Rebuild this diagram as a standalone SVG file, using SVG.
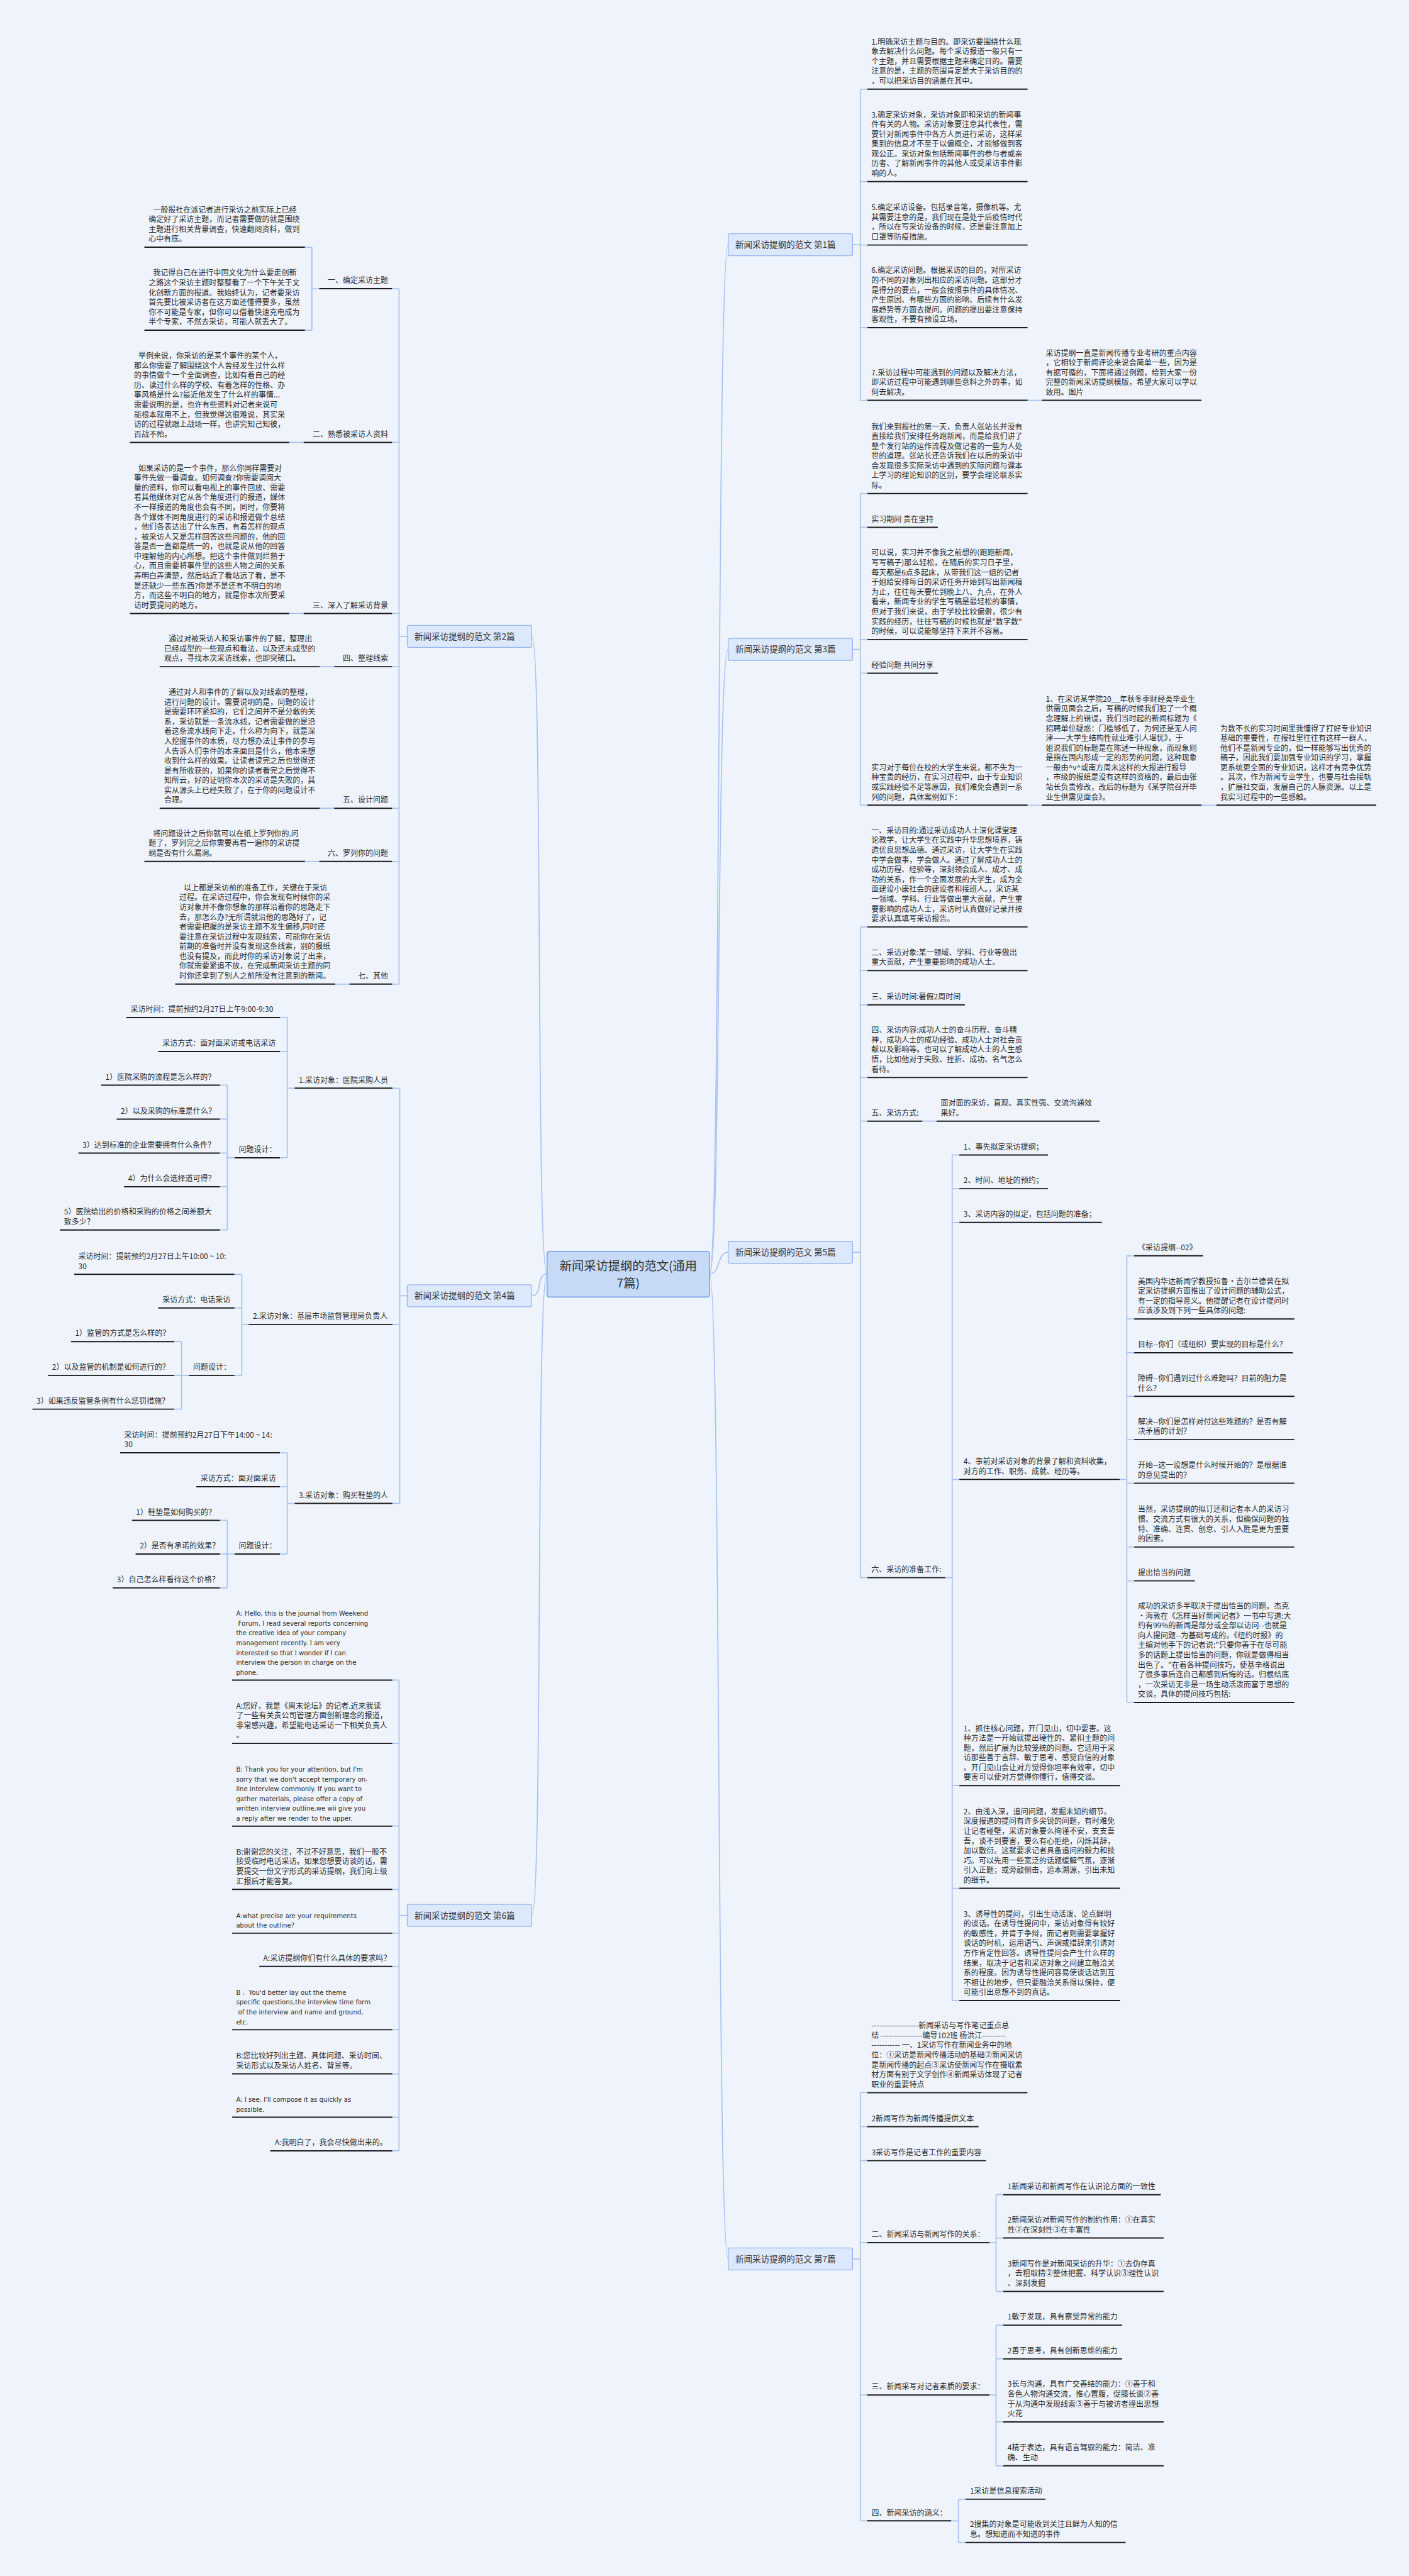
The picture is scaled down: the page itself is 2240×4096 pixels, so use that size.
<svg xmlns="http://www.w3.org/2000/svg" width="2240" height="4096" viewBox="0 0 2240 4096">
<style>
.t{font-family:"Noto Sans CJK SC","Liberation Sans",sans-serif;font-size:13.75px;fill:#2a2a2a}
.en{font-family:"DejaVu Sans","Liberation Sans",sans-serif;font-size:11.6px;fill:#2a2a2a}
.u{stroke:#1a1a1a;stroke-width:2.2;fill:none}
.c{stroke:#a7c3f2;stroke-width:2;fill:none}
.n{fill:#dce8fb;stroke:#94b6ef;stroke-width:1.5}
.nt{font-family:"Noto Sans CJK SC","Liberation Sans",sans-serif;font-size:15.5px;fill:#333}
.m{fill:#c6daf8;stroke:#7ea6ea;stroke-width:2}
.mt{font-family:"Noto Sans CJK SC","Liberation Sans",sans-serif;font-size:22px;fill:#333;text-anchor:middle}
.e{text-anchor:end}
</style>
<rect width="2240" height="4096" fill="#eff4fc"/>
<g transform="scale(0.875)">
<g id="connectors">
<path class="c" d="M1289 2315 C1310 2315 1302 444.8 1323 444.8"/>
<path class="c" d="M1289 2315 C1310 2315 1302 1180 1323 1180"/>
<path class="c" d="M1289 2315 C1310 2315 1302 2275.7 1323 2275.7"/>
<path class="c" d="M1289 2315 C1310 2315 1302 4105 1323 4105"/>
<path class="c" d="M994 2315 C973 2315 987 1156.5 966 1156.5"/>
<path class="c" d="M994 2315 C973 2315 987 2354.7 966 2354.7"/>
<path class="c" d="M994 2315 C973 2315 987 3480.8 966 3480.8"/>
<path class="c" d="M1549 444.8H1563M1563 162V727.5M1563 162H1576M1563 330H1576M1563 445.3H1576M1563 595.4H1576M1563 727.5H1576M1867 727.5H1893"/>
<path class="c" d="M1549 1180H1563M1563 896.9V1463.2M1563 896.9H1576M1563 958.2H1576M1563 1162.1H1576M1563 1223.4H1576M1563 1463.2H1576M1867 1463.2H1893M2183 1463.2H2210"/>
<path class="c" d="M1549 2275.7H1563M1563 1684.4V2867M1563 1684.4H1576M1563 1763.7H1576M1563 1826H1576M1563 1958.1H1576M1563 2037.4H1576M1563 2867H1576M1675.7 2037.4H1701.7"/>
<path class="c" d="M1717.7 2867H1730M1730 2098.8V3635.5M1730 2098.8H1743M1730 2160.1H1743M1730 2221.5H1743M1730 2688.4H1743M1730 3244.8H1743M1730 3431.5H1743M1730 3635.5H1743"/>
<path class="c" d="M2034.3 2688.4H2047.3M2047.3 2282V3093.7M2047.3 2282H2060.7M2047.3 2396.8H2060.7M2047.3 2458.2H2060.7M2047.3 2537.5H2060.7M2047.3 2616.1H2060.7M2047.3 2695.3H2060.7M2047.3 2811.3H2060.7M2047.3 2872.7H2060.7M2047.3 3093.7H2060.7"/>
<path class="c" d="M1549 4105H1563M1563 3802.8V4580.9M1563 3802.8H1576M1563 3864.6H1576M1563 3926.4H1576M1563 4075.3H1576M1563 4352.2H1576M1563 4580.9H1576"/>
<path class="c" d="M1797.7 4075.3H1809.8M1809.8 3988.2V4164M1809.8 3988.2H1822.8M1809.8 4066.9H1822.8M1809.8 4164H1822.8M1797.7 4352.2H1809.8M1809.8 4225.3V4480.9M1809.8 4225.3H1822.8M1809.8 4286.5H1822.8M1809.8 4401.1H1822.8M1809.8 4480.9H1822.8M1728.2 4580.9H1741.3M1741.3 4541.6V4620.2M1741.3 4541.6H1754.3M1741.3 4620.2H1754.3"/>
<path class="c" d="M740 1156.5H725M725 524.6V1788.3M712.3 524.6H725M712.3 803.9H725M712.3 1114.8H725M712.3 1211.6H725M712.3 1468.8H725M712.3 1565.5H725M712.3 1788.3H725"/>
<path class="c" d="M554 449.2H566.7M554 600H566.7M566.7 449.2V600M566.7 524.6H580M525.7 803.9H551.7M525.7 1114.8H551.7M581 1211.6H607.3M581 1468.8H607.3M554 1565.5H580M609 1788.3H635"/>
<path class="c" d="M739.7 2354.7H726.3M726.3 1977.5V2731.9M713 1977.5H726.3M713 2407H726.3M713 2731.9H726.3"/>
<path class="c" d="M521.9 1849.1V2103.9M508.5 1849.1H521.9M508.5 1910.9H521.9M508.5 2103.9H521.9M521.9 1977.5H535.3M412.9 1971.9V2235.1M399.6 1971.9H412.9M399.6 2033.7H412.9M399.6 2095.4H412.9M399.6 2156.5H412.9M399.6 2235.1H412.9M412.9 2103.9H426.3"/>
<path class="c" d="M439.3 2315.8V2499.6M425.9 2315.8H439.3M425.9 2376.8H439.3M425.9 2499.6H439.3M439.3 2407H451.8M329.9 2437.9V2560.7M316.5 2437.9H329.9M316.5 2499.6H329.9M316.5 2560.7H329.9M329.9 2499.6H343.3"/>
<path class="c" d="M521.9 2640V2823.9M508.5 2640H521.9M508.5 2701.8H521.9M508.5 2823.9H521.9M521.9 2731.9H535.3M412.9 2762.8V2885.6M399.6 2762.8H412.9M399.6 2823.9H412.9M399.6 2885.6H412.9M412.9 2823.9H426.3"/>
<path class="c" d="M740 3480.8H725M725 3053.1V3908.5M712.7 3053.1H725M712.7 3168.1H725M712.7 3318.5H725M712.7 3433.5H725M712.7 3513H725M712.7 3573.5H725M712.7 3688.4H725M712.7 3768.6H725M712.7 3847.4H725M712.7 3908.5H725"/>
</g>

<g id="center">
<rect class="m" x="994" y="2274" width="295" height="83" rx="4"/>
<text class="mt" x="1141.5" y="2308">新闻采访提纲的范文(通用</text>
<text class="mt" x="1141.5" y="2339">7篇)</text>
</g>

<g id="b1"><rect class="n" x="1323" y="424.8" width="226" height="40" rx="3"/><text class="nt" x="1336" y="450.3">新闻采访提纲的范文 第1篇</text></g>
<g id="b3"><rect class="n" x="1323" y="1160" width="226" height="40" rx="3"/><text class="nt" x="1336" y="1185.5">新闻采访提纲的范文 第3篇</text></g>
<g id="b5"><rect class="n" x="1323" y="2255.7" width="226" height="40" rx="3"/><text class="nt" x="1336" y="2281.2">新闻采访提纲的范文 第5篇</text></g>
<g id="b7"><rect class="n" x="1323" y="4085" width="226" height="40" rx="3"/><text class="nt" x="1336" y="4110.5">新闻采访提纲的范文 第7篇</text></g>
<g id="b2"><rect class="n" x="740" y="1136.5" width="226" height="40" rx="3"/><text class="nt" x="753" y="1162">新闻采访提纲的范文 第2篇</text></g>
<g id="b4"><rect class="n" x="740" y="2334.7" width="226" height="40" rx="3"/><text class="nt" x="753" y="2360.2">新闻采访提纲的范文 第4篇</text></g>
<g id="b6"><rect class="n" x="740" y="3460.8" width="226" height="40" rx="3"/><text class="nt" x="753" y="3486.3">新闻采访提纲的范文 第6篇</text></g>

<!-- 第1篇 -->
<g id="p1a"><text class="t" x="1583" y="80.8"><tspan x="1583">1.明确采访主题与目的。即采访要围绕什么现</tspan><tspan x="1583" dy="17.8">象去解决什么问题。每个采访报道一般只有一</tspan><tspan x="1583" dy="17.8">个主题，并且需要根据主题来确定目的。需要</tspan><tspan x="1583" dy="17.8">注意的是，主题的范围肯定是大于采访目的的</tspan><tspan x="1583" dy="17.8">，可以把采访目的涵盖在其中。</tspan></text><path class="u" d="M1576 162H1867"/></g>
<g id="p1b"><text class="t" x="1583" y="213.2"><tspan x="1583">3.确定采访对象，采访对象即和采访的新闻事</tspan><tspan x="1583" dy="17.8">件有关的人物。采访对象要注意其代表性，需</tspan><tspan x="1583" dy="17.8">要针对新闻事件中各方人员进行采访，这样采</tspan><tspan x="1583" dy="17.8">集到的信息才不至于以偏概全，才能够做到客</tspan><tspan x="1583" dy="17.8">观公正。采访对象包括新闻事件的参与者或亲</tspan><tspan x="1583" dy="17.8">历者、了解新闻事件的其他人或受采访事件影</tspan><tspan x="1583" dy="17.8">响的人。</tspan></text><path class="u" d="M1576 330H1867"/></g>
<g id="p1c"><text class="t" x="1583" y="381.9"><tspan x="1583">5.确定采访设备。包括录音笔，摄像机等。尤</tspan><tspan x="1583" dy="17.8">其需要注意的是，我们现在是处于后疫情时代</tspan><tspan x="1583" dy="17.8">，所以在写采访设备的时候，还是要注意加上</tspan><tspan x="1583" dy="17.8">口罩等防疫措施。</tspan></text><path class="u" d="M1576 445.3H1867"/></g>
<g id="p1d"><text class="t" x="1583" y="496.4"><tspan x="1583">6.确定采访问题。根据采访的目的，对所采访</tspan><tspan x="1583" dy="17.8">的不同的对象列出相应的采访问题。这部分才</tspan><tspan x="1583" dy="17.8">是得分的要点，一般会按照事件的具体情况、</tspan><tspan x="1583" dy="17.8">产生原因、有哪些方面的影响、后续有什么发</tspan><tspan x="1583" dy="17.8">展趋势等方面去提问。问题的提出要注意保持</tspan><tspan x="1583" dy="17.8">客观性，不要有预设立场。</tspan></text><path class="u" d="M1576 595.4H1867"/></g>
<g id="p1e"><text class="t" x="1583" y="681.9"><tspan x="1583">7.采访过程中可能遇到的问题以及解决方法，</tspan><tspan x="1583" dy="17.8">即采访过程中可能遇到哪些意料之外的事，如</tspan><tspan x="1583" dy="17.8">何去解决。</tspan></text><path class="u" d="M1576 727.5H1867"/></g>
<g id="p1f"><text class="t" x="1900" y="646.3"><tspan x="1900">采访提纲一直是新闻传播专业考研的重点内容</tspan><tspan x="1900" dy="17.8">，它相较于新闻评论来说会简单一些，因为是</tspan><tspan x="1900" dy="17.8">有据可循的，下面将通过例题，给到大家一份</tspan><tspan x="1900" dy="17.8">完整的新闻采访提纲模版，希望大家可以学以</tspan><tspan x="1900" dy="17.8">致用。图片</tspan></text><path class="u" d="M1893 727.5H2183"/></g>

<!-- 第3篇 -->
<g id="p3a"><text class="t" x="1583" y="780.1"><tspan x="1583">我们来到报社的第一天，负责人张站长并没有</tspan><tspan x="1583" dy="17.8">直接给我们安排任务跑新闻，而是给我们讲了</tspan><tspan x="1583" dy="17.8">整个发行站的运作流程及做记者的一些为人处</tspan><tspan x="1583" dy="17.8">世的道理。张站长还告诉我们在以后的采访中</tspan><tspan x="1583" dy="17.8">会发现很多实际采访中遇到的实际问题与课本</tspan><tspan x="1583" dy="17.8">上学习的理论知识的区别，要学会理论联系实</tspan><tspan x="1583" dy="17.8">际。</tspan></text><path class="u" d="M1576 896.9H1867"/></g>
<g id="p3b"><text class="t" x="1583" y="948.2">实习期间 贵在坚持</text><path class="u" d="M1576 958.2H1704"/></g>
<g id="p3c"><text class="t" x="1583" y="1009.7"><tspan x="1583">可以说，实习并不像我之前想的(跑跑新闻，</tspan><tspan x="1583" dy="17.8">写写稿子)那么轻松，在随后的实习日子里，</tspan><tspan x="1583" dy="17.8">每天都是6点多起床，从带我们这一组的记者</tspan><tspan x="1583" dy="17.8">于姐给安排每日的采访任务开始到写出新闻稿</tspan><tspan x="1583" dy="17.8">为止，往往每天要忙到晚上八、九点，在外人</tspan><tspan x="1583" dy="17.8">看来，新闻专业的学生写稿是最轻松的事情，</tspan><tspan x="1583" dy="17.8">但对于我们来说，由于学校比较偏僻，很少有</tspan><tspan x="1583" dy="17.8">实践的经历，往往写稿的时候也就是"数字数"</tspan><tspan x="1583" dy="17.8">的时候，可以说能够坚持下来并不容易。</tspan></text><path class="u" d="M1576 1162.1H1867"/></g>
<g id="p3d"><text class="t" x="1583" y="1213.4">经验问题 共同分享</text><path class="u" d="M1576 1223.4H1704"/></g>
<g id="p3e"><text class="t" x="1583" y="1399.8"><tspan x="1583">实习对于每位在校的大学生来说，都不失为一</tspan><tspan x="1583" dy="17.8">种宝贵的经历，在实习过程中，由于专业知识</tspan><tspan x="1583" dy="17.8">或实践经验不足等原因，我们难免会遇到一系</tspan><tspan x="1583" dy="17.8">列的问题，具体案例如下：</tspan></text><path class="u" d="M1576 1463.2H1867"/></g>
<g id="p3f"><text class="t" x="1900" y="1275.2"><tspan x="1900">1、在采访某学院20__年秋冬季财经类毕业生</tspan><tspan x="1900" dy="17.8">供需见面会之后，写稿的时候我们犯了一个概</tspan><tspan x="1900" dy="17.8">念理解上的错误，我们当时起的新闻标题为《</tspan><tspan x="1900" dy="17.8">招聘单位疑惑：门槛够低了，为何还是无人问</tspan><tspan x="1900" dy="17.8">津——大学生结构性就业难引人堪忧》，于</tspan><tspan x="1900" dy="17.8">姐说我们的标题是在陈述一种现象，而现象则</tspan><tspan x="1900" dy="17.8">是指在国内形成一定的形势的问题，这种现象</tspan><tspan x="1900" dy="17.8">一般由^v^或南方周末这样的大报进行报导</tspan><tspan x="1900" dy="17.8">，市级的报纸是没有这样的资格的，最后由张</tspan><tspan x="1900" dy="17.8">站长负责修改，改后的标题为《某学院召开毕</tspan><tspan x="1900" dy="17.8">业生供需见面会》。</tspan></text><path class="u" d="M1893 1463.2H2183"/></g>
<g id="p3g"><text class="t" x="2217" y="1328.6"><tspan x="2217">为数不长的实习时间里我懂得了打好专业知识</tspan><tspan x="2217" dy="17.8">基础的重要性，在报社里往往有这样一群人，</tspan><tspan x="2217" dy="17.8">他们不是新闻专业的，但一样能够写出优秀的</tspan><tspan x="2217" dy="17.8">稿子，因此我们要加强专业知识的学习，掌握</tspan><tspan x="2217" dy="17.8">更系统更全面的专业知识，这样才有竞争优势</tspan><tspan x="2217" dy="17.8">。其次，作为新闻专业学生，也要与社会接轨</tspan><tspan x="2217" dy="17.8">，扩展社交面，发展自己的人脉资源。以上是</tspan><tspan x="2217" dy="17.8">我实习过程中的一些感触。</tspan></text><path class="u" d="M2210 1463.2H2500.6"/></g>

<!-- 第5篇 -->
<g id="p5a"><text class="t" x="1583" y="1514.2"><tspan x="1583">一、采访目的:通过采访成功人士深化课堂理</tspan><tspan x="1583" dy="17.8">论教学，让大学生在实践中升华思想境界，铸</tspan><tspan x="1583" dy="17.8">造优良思想品德。通过采访，让大学生在实践</tspan><tspan x="1583" dy="17.8">中学会做事，学会做人。通过了解成功人士的</tspan><tspan x="1583" dy="17.8">成功历程、经验等，深刻领会成人、成才、成</tspan><tspan x="1583" dy="17.8">功的关系，作一个全面发展的大学生，成为全</tspan><tspan x="1583" dy="17.8">面建设小康社会的建设者和接班人。，采访某</tspan><tspan x="1583" dy="17.8">一领域、学科、行业等做出重大贡献，产生重</tspan><tspan x="1583" dy="17.8">要影响的成功人士，采访时认真做好记录并按</tspan><tspan x="1583" dy="17.8">要求认真填写采访报告。</tspan></text><path class="u" d="M1576 1684.4H1867"/></g>
<g id="p5b"><text class="t" x="1583" y="1735.9"><tspan x="1583">二、采访对象:某一领域、学科、行业等做出</tspan><tspan x="1583" dy="17.8">重大贡献，产生重要影响的成功人士。</tspan></text><path class="u" d="M1576 1763.7H1867"/></g>
<g id="p5c"><text class="t" x="1583" y="1816">三、采访时间:暑假2周时间</text><path class="u" d="M1576 1826H1753"/></g>
<g id="p5d"><text class="t" x="1583" y="1876.9"><tspan x="1583">四、采访内容:成功人士的奋斗历程、奋斗精</tspan><tspan x="1583" dy="17.8">神，成功人士的成功经验、成功人士对社会贡</tspan><tspan x="1583" dy="17.8">献以及影响等。也可以了解成功人士的人生感</tspan><tspan x="1583" dy="17.8">悟，比如他对于失败、挫折、成功、名气怎么</tspan><tspan x="1583" dy="17.8">看待。</tspan></text><path class="u" d="M1576 1958.1H1867"/></g>
<g id="p5e"><text class="t" x="1583" y="2027.4">五、采访方式:</text><path class="u" d="M1576 2037.4H1675.7"/></g>
<g id="p5e1"><text class="t" x="1709" y="2009.6"><tspan x="1709">面对面的采访，直观、真实性强、交流沟通效</tspan><tspan x="1709" dy="17.8">果好。</tspan></text><path class="u" d="M1701.7 2037.4H1998"/></g>
<g id="p5f"><text class="t" x="1583" y="2857">六、采访的准备工作:</text><path class="u" d="M1576 2867H1717.7"/></g>
<g id="p5f1"><text class="t" x="1750.7" y="2088.8">1、事先拟定采访提纲；</text><path class="u" d="M1743 2098.8H1904"/></g>
<g id="p5f2"><text class="t" x="1750.7" y="2150.1">2、时间、地址的预约；</text><path class="u" d="M1743 2160.1H1904"/></g>
<g id="p5f3"><text class="t" x="1750.7" y="2211.5">3、采访内容的拟定，包括问题的准备；</text><path class="u" d="M1743 2221.5H2002"/></g>
<g id="p5f4"><text class="t" x="1750.7" y="2660.6"><tspan x="1750.7">4、事前对采访对象的背景了解和资料收集，</tspan><tspan x="1750.7" dy="17.8">对方的工作、职务、成就、经历等。</tspan></text><path class="u" d="M1743 2688.4H2034.3"/></g>
<g id="p5f5"><text class="t" x="1750.7" y="3145.8"><tspan x="1750.7">1、抓住核心问题，开门见山，切中要害。这</tspan><tspan x="1750.7" dy="17.8">种方法是一开始就提出硬性的、紧扣主题的问</tspan><tspan x="1750.7" dy="17.8">题，然后扩展为比较笼统的问题。它适用于采</tspan><tspan x="1750.7" dy="17.8">访那些善于言辞、敏于思考、感觉自信的对象</tspan><tspan x="1750.7" dy="17.8">。开门见山会让对方觉得你坦率有效率，切中</tspan><tspan x="1750.7" dy="17.8">要害可以使对方觉得你懂行，值得交谈。</tspan></text><path class="u" d="M1743 3244.8H2035"/></g>
<g id="p5f6"><text class="t" x="1750.7" y="3296.9"><tspan x="1750.7">2、由浅入深，追问问题，发掘未知的细节。</tspan><tspan x="1750.7" dy="17.8">深度报道的提问有许多尖锐的问题，有时难免</tspan><tspan x="1750.7" dy="17.8">让记者碰壁，采访对象要么拘谨不安，支支吾</tspan><tspan x="1750.7" dy="17.8">吾，谈不到要害，要么有心拒绝，闪烁其辞，</tspan><tspan x="1750.7" dy="17.8">加以敷衍。这就要求记者具备追问的毅力和技</tspan><tspan x="1750.7" dy="17.8">巧。可以先用一些宽泛的话题缓解气氛，逐渐</tspan><tspan x="1750.7" dy="17.8">引入正题；或旁敲侧击，追本溯源，引出未知</tspan><tspan x="1750.7" dy="17.8">的细节。</tspan></text><path class="u" d="M1743 3431.5H2035"/></g>
<g id="p5f7"><text class="t" x="1750.7" y="3483.1"><tspan x="1750.7">3、诱导性的提问，引出生动活泼、论点鲜明</tspan><tspan x="1750.7" dy="17.8">的谈话。在诱导性提问中，采访对象得有较好</tspan><tspan x="1750.7" dy="17.8">的敏感性，并肯于争辩，而记者则需要掌握好</tspan><tspan x="1750.7" dy="17.8">谈话的时机，运用语气、声调或措辞来引诱对</tspan><tspan x="1750.7" dy="17.8">方作肯定性回答。诱导性提问会产生什么样的</tspan><tspan x="1750.7" dy="17.8">结果，取决于记者和采访对象之间建立融洽关</tspan><tspan x="1750.7" dy="17.8">系的程度。因为诱导性提问容易使谈话达到互</tspan><tspan x="1750.7" dy="17.8">不相让的地步，但只要融洽关系得以保持，便</tspan><tspan x="1750.7" dy="17.8">可能引出意想不到的真话。</tspan></text><path class="u" d="M1743 3635.5H2035"/></g>
<g id="p5g1"><text class="t" x="2067.3" y="2272">《采访提纲--02》</text><path class="u" d="M2060.7 2282H2185.7"/></g>
<g id="p5g2"><text class="t" x="2067.3" y="2333.4"><tspan x="2067.3">美国内华达新闻学教授拉鲁·吉尔兰德曾在拟</tspan><tspan x="2067.3" dy="17.8">定采访提纲方面推出了设计问题的辅助公式，</tspan><tspan x="2067.3" dy="17.8">有一定的指导意义。他提醒记者在设计提问时</tspan><tspan x="2067.3" dy="17.8">应该涉及到下列一些具体的问题:</tspan></text><path class="u" d="M2060.7 2396.8H2351.7"/></g>
<g id="p5g3"><text class="t" x="2067.3" y="2448.2">目标--你们（或组织）要实现的目标是什么？</text><path class="u" d="M2060.7 2458.2H2349"/></g>
<g id="p5g4"><text class="t" x="2067.3" y="2509.7"><tspan x="2067.3">障碍--你们遇到过什么难题吗？目前的阻力是</tspan><tspan x="2067.3" dy="17.8">什么？</tspan></text><path class="u" d="M2060.7 2537.5H2351.7"/></g>
<g id="p5g5"><text class="t" x="2067.3" y="2588.3"><tspan x="2067.3">解决--你们是怎样对付这些难题的？是否有解</tspan><tspan x="2067.3" dy="17.8">决矛盾的计划？</tspan></text><path class="u" d="M2060.7 2616.1H2351.7"/></g>
<g id="p5g6"><text class="t" x="2067.3" y="2667.5"><tspan x="2067.3">开始--这一设想是什么时候开始的？是根据谁</tspan><tspan x="2067.3" dy="17.8">的意见提出的？</tspan></text><path class="u" d="M2060.7 2695.3H2351.7"/></g>
<g id="p5g7"><text class="t" x="2067.3" y="2747.9"><tspan x="2067.3">当然，采访提纲的拟订还和记者本人的采访习</tspan><tspan x="2067.3" dy="17.8">惯、交流方式有很大的关系，但确保问题的独</tspan><tspan x="2067.3" dy="17.8">特、准确、连贯、创意、引人入胜是更为重要</tspan><tspan x="2067.3" dy="17.8">的因素。</tspan></text><path class="u" d="M2060.7 2811.3H2351.7"/></g>
<g id="p5g8"><text class="t" x="2067.3" y="2862.7">提出恰当的问题</text><path class="u" d="M2060.7 2872.7H2171"/></g>
<g id="p5g9"><text class="t" x="2067.3" y="2923.5"><tspan x="2067.3">成功的采访多半取决于提出恰当的问题。杰克</tspan><tspan x="2067.3" dy="17.8">·海敦在《怎样当好新闻记者》一书中写道:大</tspan><tspan x="2067.3" dy="17.8">约有99%的新闻是部分或全部以访问--也就是</tspan><tspan x="2067.3" dy="17.8">向人提问题--为基础写成的。《纽约时报》的</tspan><tspan x="2067.3" dy="17.8">主编对他手下的记者说:"只要你善于在尽可能</tspan><tspan x="2067.3" dy="17.8">多的话题上提出恰当的问题，你就是做得相当</tspan><tspan x="2067.3" dy="17.8">出色了。"在着各种提问技巧，使基辛格说出</tspan><tspan x="2067.3" dy="17.8">了很多事后连自己都感到后悔的话。归根结底</tspan><tspan x="2067.3" dy="17.8">，一次采访无非是一场生动活泼而富于思想的</tspan><tspan x="2067.3" dy="17.8">交谈，具体的提问技巧包括:</tspan></text><path class="u" d="M2060.7 3093.7H2351.7"/></g>

<!-- 第7篇 -->
<g id="p7a"><text class="t" x="1583" y="3686"><tspan x="1583">------------------新闻采访与写作笔记重点总</tspan><tspan x="1583" dy="17.8">结 ----------------编导102班 杨洪江---------</tspan><tspan x="1583" dy="17.8">----------- 一、1采访写作在新闻业务中的地</tspan><tspan x="1583" dy="17.8">位：①采访是新闻传播活动的基础②新闻采访</tspan><tspan x="1583" dy="17.8">是新闻传播的起点③采访使新闻写作在摄取素</tspan><tspan x="1583" dy="17.8">材方面有别于文学创作④新闻采访体现了记者</tspan><tspan x="1583" dy="17.8">职业的重要特点</tspan></text><path class="u" d="M1576 3802.8H1866.7"/></g>
<g id="p7b"><text class="t" x="1583.3" y="3854.6">2新闻写作为新闻传播提供文本</text><path class="u" d="M1575.5 3864.6H1777.9"/></g>
<g id="p7c"><text class="t" x="1583.3" y="3916.4">3采访写作是记者工作的重要内容</text><path class="u" d="M1575.5 3926.4H1791.5"/></g>
<g id="p7d"><text class="t" x="1583.3" y="4065.3">二、新闻采访与新闻写作的关系：</text><path class="u" d="M1575.5 4075.3H1797.7"/></g>
<g id="p7d1"><text class="t" x="1830.7" y="3978.2">1新闻采访和新闻写作在认识论方面的一致性</text><path class="u" d="M1822.8 3988.2H2109"/></g>
<g id="p7d2"><text class="t" x="1830.7" y="4039.1"><tspan x="1830.7">2新闻采访对新闻写作的制约作用：①在真实</tspan><tspan x="1830.7" dy="17.8">性②在深刻性③在丰富性</tspan></text><path class="u" d="M1822.8 4066.9H2114.2"/></g>
<g id="p7d3"><text class="t" x="1830.7" y="4118.4"><tspan x="1830.7">3新闻写作是对新闻采访的升华：①去伪存真</tspan><tspan x="1830.7" dy="17.8">，去粗取精②整体把握、科学认识③理性认识</tspan><tspan x="1830.7" dy="17.8">、深刻发掘</tspan></text><path class="u" d="M1822.8 4164H2114.2"/></g>
<g id="p7e"><text class="t" x="1583.3" y="4342.2">三、新闻采写对记者素质的要求：</text><path class="u" d="M1575.5 4352.2H1797.7"/></g>
<g id="p7e1"><text class="t" x="1830.7" y="4215.3">1敏于发现，具有察觉异常的能力</text><path class="u" d="M1822.8 4225.3H2038.8"/></g>
<g id="p7e2"><text class="t" x="1830.7" y="4276.5">2善于思考，具有创新思维的能力</text><path class="u" d="M1822.8 4286.5H2038.8"/></g>
<g id="p7e3"><text class="t" x="1830.7" y="4337.7"><tspan x="1830.7">3长与沟通，具有广交善结的能力：①善于和</tspan><tspan x="1830.7" dy="17.8">各色人物沟通交流，推心置腹，促膝长谈②善</tspan><tspan x="1830.7" dy="17.8">于从沟通中发现线索③善于与被访者撞出思想</tspan><tspan x="1830.7" dy="17.8">火花</tspan></text><path class="u" d="M1822.8 4401.1H2114.2"/></g>
<g id="p7e4"><text class="t" x="1830.7" y="4453.1"><tspan x="1830.7">4精于表达，具有语言驾驭的能力：简洁、准</tspan><tspan x="1830.7" dy="17.8">确、生动</tspan></text><path class="u" d="M1822.8 4480.9H2114.2"/></g>
<g id="p7f"><text class="t" x="1583.3" y="4570.9">四、新闻采访的涵义：</text><path class="u" d="M1575.5 4580.9H1728.2"/></g>
<g id="p7f1"><text class="t" x="1762.2" y="4531.6">1采访是信息搜索活动</text><path class="u" d="M1754.3 4541.6H1899.7"/></g>
<g id="p7f2"><text class="t" x="1762.2" y="4592.4"><tspan x="1762.2">2搜集的对象是可能收到关注且鲜为人知的信</tspan><tspan x="1762.2" dy="17.8">息。想知道而不知道的事件</tspan></text><path class="u" d="M1754.3 4620.2H2045.1"/></g>

<!-- 第2篇 -->
<g id="p2a"><text class="t e" x="705.3" y="514.6">一、确定采访主题</text><path class="u" d="M580 524.6H712.3"/></g>
<g id="p2a1"><text class="t" x="270" y="385.8"><tspan x="278">一般报社在派记者进行采访之前实际上已经</tspan><tspan x="270" dy="17.8">确定好了采访主题，而记者需要做的就是围绕</tspan><tspan x="270" dy="17.8">主题进行相关背景调查，快速翻阅资料，做到</tspan><tspan x="270" dy="17.8">心中有底。</tspan></text><path class="u" d="M262.3 449.2H554"/></g>
<g id="p2a2"><text class="t" x="270" y="501"><tspan x="278">我记得自己在进行中国文化为什么要走创新</tspan><tspan x="270" dy="17.8">之路这个采访主题时整整看了一个下午关于文</tspan><tspan x="270" dy="17.8">化创新方面的报道。我始终认为，记者要采访</tspan><tspan x="270" dy="17.8">首先要比被采访者在这方面还懂得要多，虽然</tspan><tspan x="270" dy="17.8">你不可能是专家，但你可以借着快速充电成为</tspan><tspan x="270" dy="17.8">半个专家，不然去采访，可能人就丢大了。</tspan></text><path class="u" d="M262.3 600H554"/></g>
<g id="p2b"><text class="t e" x="705.3" y="793.9">二、熟悉被采访人资料</text><path class="u" d="M551.7 803.9H712.3"/></g>
<g id="p2b1"><text class="t" x="243.5" y="651.5"><tspan x="251.5">举例来说，你采访的是某个事件的某个人，</tspan><tspan x="243.5" dy="17.8">那么你需要了解围绕这个人曾经发生过什么样</tspan><tspan x="243.5" dy="17.8">的事情做个一个全面调查，比如有着自己的经</tspan><tspan x="243.5" dy="17.8">历、读过什么样的学校、有着怎样的性格、办</tspan><tspan x="243.5" dy="17.8">事风格是什么?最近他发生了什么样的事情...</tspan><tspan x="243.5" dy="17.8">需要说明的是，也许有些资料对记者来说可</tspan><tspan x="243.5" dy="17.8">能根本就用不上，但我觉得这很难说，其实采</tspan><tspan x="243.5" dy="17.8">访的过程就跟上战场一样，也讲究知己知彼，</tspan><tspan x="243.5" dy="17.8">百战不殆。</tspan></text><path class="u" d="M236 803.9H525.7"/></g>
<g id="p2c"><text class="t e" x="705.3" y="1104.8">三、深入了解采访背景</text><path class="u" d="M551.7 1114.8H712.3"/></g>
<g id="p2c1"><text class="t" x="243.5" y="855.6"><tspan x="251.5">如果采访的是一个事件，那么你同样需要对</tspan><tspan x="243.5" dy="17.8">事件先做一番调查。如何调查?你需要调阅大</tspan><tspan x="243.5" dy="17.8">量的资料，你可以看电视上的事件回放、需要</tspan><tspan x="243.5" dy="17.8">看其他媒体对它从各个角度进行的报道，媒体</tspan><tspan x="243.5" dy="17.8">不一样报道的角度也会有不同，同时，你要将</tspan><tspan x="243.5" dy="17.8">各个媒体不同角度进行的采访和报道做个总结</tspan><tspan x="243.5" dy="17.8">，他们各表达出了什么东西，有着怎样的观点</tspan><tspan x="243.5" dy="17.8">，被采访人又是怎样回答这些问题的，他的回</tspan><tspan x="243.5" dy="17.8">答是否一直都是统一的，也就是说从他的回答</tspan><tspan x="243.5" dy="17.8">中理解他的内心所想。把这个事件做到烂熟于</tspan><tspan x="243.5" dy="17.8">心，而且需要将事件里的这些人物之间的关系</tspan><tspan x="243.5" dy="17.8">弄明白弄清楚，然后站近了看站远了看，是不</tspan><tspan x="243.5" dy="17.8">是还缺少一些东西?你是不是还有不明白的地</tspan><tspan x="243.5" dy="17.8">方，而这些不明白的地方，就是你本次所要采</tspan><tspan x="243.5" dy="17.8">访时要提问的地方。</tspan></text><path class="u" d="M236 1114.8H525.7"/></g>
<g id="p2d"><text class="t e" x="705.3" y="1201.6">四、整理线索</text><path class="u" d="M607.3 1211.6H712.3"/></g>
<g id="p2d1"><text class="t" x="298.3" y="1166"><tspan x="306.3">通过对被采访人和采访事件的了解，整理出</tspan><tspan x="298.3" dy="17.8">已经成型的一些观点和看法，以及还未成型的</tspan><tspan x="298.3" dy="17.8">观点，寻找本次采访线索，也即突破口。</tspan></text><path class="u" d="M290 1211.6H581"/></g>
<g id="p2e"><text class="t e" x="705.3" y="1458.8">五、设计问题</text><path class="u" d="M607.3 1468.8H712.3"/></g>
<g id="p2e1"><text class="t" x="298.3" y="1263"><tspan x="306.3">通过对人和事件的了解以及对线索的整理，</tspan><tspan x="298.3" dy="17.8">进行问题的设计。需要说明的是，问题的设计</tspan><tspan x="298.3" dy="17.8">是需要环环紧扣的，它们之间并不是分散的关</tspan><tspan x="298.3" dy="17.8">系，采访就是一条流水线，记者需要做的是沿</tspan><tspan x="298.3" dy="17.8">着这条流水线向下走。什么称为向下，就是深</tspan><tspan x="298.3" dy="17.8">入挖掘事件的本质，尽力想办法让事件的参与</tspan><tspan x="298.3" dy="17.8">人告诉人们事件的本来面目是什么，他本来想</tspan><tspan x="298.3" dy="17.8">收到什么样的效果。让读者读完之后也觉得还</tspan><tspan x="298.3" dy="17.8">是有所收获的，如果你的读者看完之后觉得不</tspan><tspan x="298.3" dy="17.8">知所云，好的证明你本次的采访是失败的，其</tspan><tspan x="298.3" dy="17.8">实从源头上已经失败了，在于你的问题设计不</tspan><tspan x="298.3" dy="17.8">合理。</tspan></text><path class="u" d="M290 1468.8H581"/></g>
<g id="p2f"><text class="t e" x="705.3" y="1555.5">六、罗列你的问题</text><path class="u" d="M580 1565.5H712.3"/></g>
<g id="p2f1"><text class="t" x="270" y="1519.9"><tspan x="278">将问题设计之后你就可以在纸上罗列你的.问</tspan><tspan x="270" dy="17.8">题了，罗列完之后你需要再看一遍你的采访提</tspan><tspan x="270" dy="17.8">纲是否有什么漏洞。</tspan></text><path class="u" d="M262.3 1565.5H554"/></g>
<g id="p2g"><text class="t e" x="705.3" y="1778.3">七、其他</text><path class="u" d="M635 1788.3H712.3"/></g>
<g id="p2g1"><text class="t" x="325.7" y="1618.1"><tspan x="333.7">以上都是采访前的准备工作，关键在于采访</tspan><tspan x="325.7" dy="17.8">过程。在采访过程中，你会发现有时候你的采</tspan><tspan x="325.7" dy="17.8">访对象并不像你想象的那样沿着你的思路走下</tspan><tspan x="325.7" dy="17.8">去，那怎么办?无所谓就沿他的思路好了，记</tspan><tspan x="325.7" dy="17.8">者需要把握的是采访主题不发生偏移,同时还</tspan><tspan x="325.7" dy="17.8">要注意在采访过程中发现线索，可能你在采访</tspan><tspan x="325.7" dy="17.8">前期的准备时并没有发现这条线索，别的报纸</tspan><tspan x="325.7" dy="17.8">也没有提及，而此时你的采访对象说了出来，</tspan><tspan x="325.7" dy="17.8">你就需要紧追不放，在完成新闻采访主题的同</tspan><tspan x="325.7" dy="17.8">时你还拿到了别人之前所没有注意到的新闻。</tspan></text><path class="u" d="M318.3 1788.3H609"/></g>

<!-- 第4篇 -->
<g id="p4a"><text class="t" x="542.8" y="1967.5">1.采访对象：医院采购人员</text><path class="u" d="M535.3 1977.5H713"/></g>
<g id="p4a1"><text class="t" x="237" y="1839.1">采访时间：提前预约2月27日上午9:00-9:30</text><path class="u" d="M229.5 1849.1H508.5"/></g>
<g id="p4a2"><text class="t" x="295" y="1900.9">采访方式：面对面采访或电话采访</text><path class="u" d="M287.5 1910.9H508.5"/></g>
<g id="p4a3"><text class="t" x="433.8" y="2093.9">问题设计：</text><path class="u" d="M426.3 2103.9H508.5"/></g>
<g id="p4a3a"><text class="t" x="191.4" y="1961.9">1）医院采购的流程是怎么样的？</text><path class="u" d="M183.9 1971.9H399.6"/></g>
<g id="p4a3b"><text class="t" x="219.5" y="2023.7">2）以及采购的标准是什么？</text><path class="u" d="M212 2033.7H399.6"/></g>
<g id="p4a3c"><text class="t" x="149.9" y="2085.4">3）达到标准的企业需要拥有什么条件？</text><path class="u" d="M142.4 2095.4H399.6"/></g>
<g id="p4a3d"><text class="t" x="232.9" y="2146.5">4）为什么会选择道可得？</text><path class="u" d="M225.4 2156.5H399.6"/></g>
<g id="p4a3e"><text class="t" x="116.4" y="2207.3"><tspan x="116.4">5）医院给出的价格和采购的价格之间差额大</tspan><tspan x="116.4" dy="17.8">致多少？</tspan></text><path class="u" d="M108.9 2235.1H399.6"/></g>
<g id="p4b"><text class="t" x="459.3" y="2397">2.采访对象：基层市场监督管理局负责人</text><path class="u" d="M451.8 2407H713"/></g>
<g id="p4b1"><text class="t" x="142.3" y="2288"><tspan x="142.3">采访时间：提前预约2月27日上午10:00 ~ 10:</tspan><tspan x="142.3" dy="17.8">30</tspan></text><path class="u" d="M134.8 2315.8H425.9"/></g>
<g id="p4b2"><text class="t" x="295" y="2366.8">采访方式：电话采访</text><path class="u" d="M287.5 2376.8H425.9"/></g>
<g id="p4b3"><text class="t" x="350.8" y="2489.6">问题设计：</text><path class="u" d="M343.3 2499.6H425.9"/></g>
<g id="p4b3a"><text class="t" x="136.5" y="2427.9">1）监管的方式是怎么样的？</text><path class="u" d="M129 2437.9H316.5"/></g>
<g id="p4b3b"><text class="t" x="94.6" y="2489.6">2）以及监管的机制是如何进行的？</text><path class="u" d="M87.1 2499.6H316.5"/></g>
<g id="p4b3c"><text class="t" x="66.4" y="2550.7">3）如果违反监管条例有什么惩罚措施？</text><path class="u" d="M58.9 2560.7H316.5"/></g>
<g id="p4c"><text class="t" x="542.8" y="2721.9">3.采访对象：购买鞋垫的人</text><path class="u" d="M535.3 2731.9H713"/></g>
<g id="p4c1"><text class="t" x="225.8" y="2612.2"><tspan x="225.8">采访时间：提前预约2月27日下午14:00 ~ 14:</tspan><tspan x="225.8" dy="17.8">30</tspan></text><path class="u" d="M218.3 2640H508.5"/></g>
<g id="p4c2"><text class="t" x="364.2" y="2691.8">采访方式：面对面采访</text><path class="u" d="M356.7 2701.8H508.5"/></g>
<g id="p4c3"><text class="t" x="433.8" y="2813.9">问题设计：</text><path class="u" d="M426.3 2823.9H508.5"/></g>
<g id="p4c3a"><text class="t" x="247.2" y="2752.8">1）鞋垫是如何购买的？</text><path class="u" d="M239.7 2762.8H399.6"/></g>
<g id="p4c3b"><text class="t" x="253.9" y="2813.9">2）是否有承诺的效果？</text><path class="u" d="M246.4 2823.9H399.6"/></g>
<g id="p4c3c"><text class="t" x="212.4" y="2875.6">3）自己怎么样看待这个价格？</text><path class="u" d="M204.9 2885.6H399.6"/></g>

<!-- 第6篇 -->
<g id="p6a"><text class="en" x="429" y="2936.3"><tspan x="429">A: Hello, this is the journal from Weekend</tspan><tspan x="429" dy="17.8"> Forum. I read several reports concerning</tspan><tspan x="429" dy="17.8">the creative idea of your company</tspan><tspan x="429" dy="17.8">management recently. I am very</tspan><tspan x="429" dy="17.8">interested so that I wonder if I can</tspan><tspan x="429" dy="17.8">interview the person in charge on the</tspan><tspan x="429" dy="17.8">phone.</tspan></text><path class="u" d="M421.7 3053.1H712.7"/></g>
<g id="p6b"><text class="t" x="429" y="3104.7"><tspan x="429">A:您好，我是《周末论坛》的记者.近来我读</tspan><tspan x="429" dy="17.8">了一些有关贵公司管理方面创新理念的报道，</tspan><tspan x="429" dy="17.8">非常感兴趣，希望能电话采访一下相关负责人</tspan><tspan x="429" dy="17.8">。</tspan></text><path class="u" d="M421.7 3168.1H712.7"/></g>
<g id="p6c"><text class="en" x="429" y="3219.5"><tspan x="429">B: Thank you for your attention, but I'm</tspan><tspan x="429" dy="17.8">sorry that we don't accept temporary on-</tspan><tspan x="429" dy="17.8">line interview commonly. If you want to</tspan><tspan x="429" dy="17.8">gather materials, please offer a copy of</tspan><tspan x="429" dy="17.8">written interview outline,we wii give you</tspan><tspan x="429" dy="17.8">a reply after we render to the upper.</tspan></text><path class="u" d="M421.7 3318.5H712.7"/></g>
<g id="p6d"><text class="t" x="429" y="3370.1"><tspan x="429">B:谢谢您的关注，不过不好意思，我们一般不</tspan><tspan x="429" dy="17.8">接受临时电话采访。如果您想要访谈的话，需</tspan><tspan x="429" dy="17.8">要提交一份文字形式的采访提纲，我们向上级</tspan><tspan x="429" dy="17.8">汇报后才能答复。</tspan></text><path class="u" d="M421.7 3433.5H712.7"/></g>
<g id="p6e"><text class="en" x="429" y="3485.2"><tspan x="429">A:what precise are your requirements</tspan><tspan x="429" dy="17.8">about the outline?</tspan></text><path class="u" d="M421.7 3513H712.7"/></g>
<g id="p6f"><text class="t" x="478.3" y="3563.5">A:采访提纲你们有什么具体的要求吗？</text><path class="u" d="M471 3573.5H712.7"/></g>
<g id="p6g"><text class="en" x="429" y="3625"><tspan x="429">B：  You'd better lay out the theme</tspan><tspan x="429" dy="17.8">specific questions,the interview time form</tspan><tspan x="429" dy="17.8"> of the interview and name and ground,</tspan><tspan x="429" dy="17.8">etc.</tspan></text><path class="u" d="M421.7 3688.4H712.7"/></g>
<g id="p6h"><text class="t" x="429" y="3740.8"><tspan x="429">B:您比较好列出主题、具体问题、采访时间、</tspan><tspan x="429" dy="17.8">采访形式以及采访人姓名、背景等。</tspan></text><path class="u" d="M421.7 3768.6H712.7"/></g>
<g id="p6i"><text class="en" x="429" y="3819.6"><tspan x="429">A: I see. I'll compose it as quickly as</tspan><tspan x="429" dy="17.8">possible.</tspan></text><path class="u" d="M421.7 3847.4H712.7"/></g>
<g id="p6j"><text class="t" x="499.3" y="3898.5">A:我明白了，我会尽快做出来的。</text><path class="u" d="M491 3908.5H712.7"/></g>
</g>
</svg>
